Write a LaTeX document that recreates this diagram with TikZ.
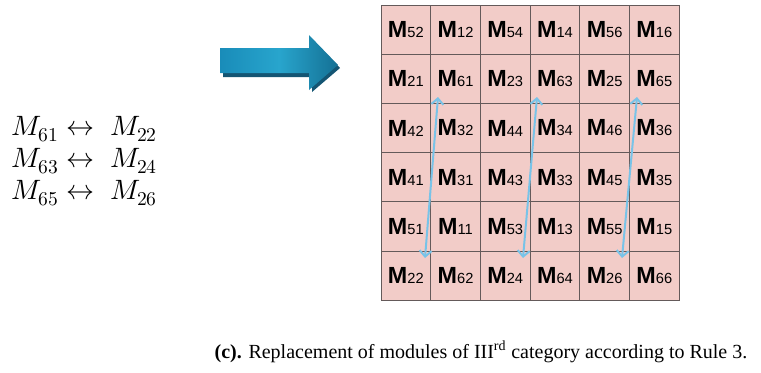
\documentclass[tikz,border=0pt]{standalone}
\usepackage{fontspec}
\usepackage{unicode-math}
\setmainfont{Liberation Serif}
\newfontfamily\cellfont{Liberation Sans}
\usetikzlibrary{arrows.meta}
\definecolor{cellpink}{RGB}{242,204,200}
\definecolor{cellline}{RGB}{100,90,90}
\definecolor{swapblue}{RGB}{120,195,232}
\definecolor{arrdark}{RGB}{20,85,115}
\definecolor{arrmid}{RGB}{25,140,185}
\definecolor{arrlight}{RGB}{40,165,205}
\tikzset{
  cellbox/.style={draw=cellline, line width=0.6pt, fill=cellpink, minimum width=49.7*0.75pt, minimum height=49.2*0.75pt, inner sep=0pt, font=\cellfont},
  swap/.style={draw=swapblue, line width=1.5pt, {Straight Barb[length=4.5pt,width=9pt]}-{Straight Barb[length=4.5pt,width=9pt]}},
  eqline/.style={anchor=base west, inner sep=0pt, font=\fontsize{21}{24}\selectfont},
  capt/.style={anchor=base, inner sep=0pt, font=\fontsize{15}{18}\selectfont}
}
\newcommand{\cm}[1]{{\fontsize{17.5}{18}\selectfont\bfseries M}{\fontsize{11}{12}\selectfont #1}}
\begin{document}
\begin{tikzpicture}[x=0.75pt,y=-0.75pt]
\useasboundingbox (0,0) rectangle (761,372);
% block arrow
\fill[arrdark] (223,52) -- (312,52) -- (312,39) -- (340,68) -- (312,92) -- (312,77) -- (223,77) -- cycle;
\shade[left color=arrmid, right color=arrmid!80!black, middle color=arrlight] (220,48) -- (309,48) -- (309,35) -- (338,65) -- (309,90) -- (309,73) -- (220,73) -- cycle;
% grid
\foreach \labs [count=\r] in {{52,12,54,14,56,16},{21,61,23,63,25,65},{42,32,44,34,46,36},{41,31,43,33,45,35},{51,11,53,13,55,15},{22,62,24,64,26,66}}{
  \foreach \l [count=\c] in \labs {
    \node[cellbox] (c\r\c) at ({381+49.7*(\c-0.5)}, {5+49.2*(\r-0.5)}) {\cm{\l}};
  }
}
% swap arrows
\coordinate (a1t) at (438,97); \coordinate (a1b) at (425,258);
\coordinate (a2t) at (537,97); \coordinate (a2b) at (523,258);
\coordinate (a3t) at (637,97); \coordinate (a3b) at (622,258);
\draw[swap] (a1t) -- (a1b);
\draw[swap] (a2t) -- (a2b);
\draw[swap] (a3t) -- (a3b);
% equations
\node[eqline] (e1) at (11,135) {$M_{61}\leftrightarrow\; M_{22}$};
\node[eqline] (e2) at (11,167) {$M_{63}\leftrightarrow\; M_{24}$};
\node[eqline] (e3) at (11,199) {$M_{65}\leftrightarrow\; M_{26}$};
% caption
\node[capt] (cap) at (481,358) {\textbf{(c).} Replacement of modules of III\textsuperscript{rd} category according to Rule 3.};
\end{tikzpicture}
\end{document}
